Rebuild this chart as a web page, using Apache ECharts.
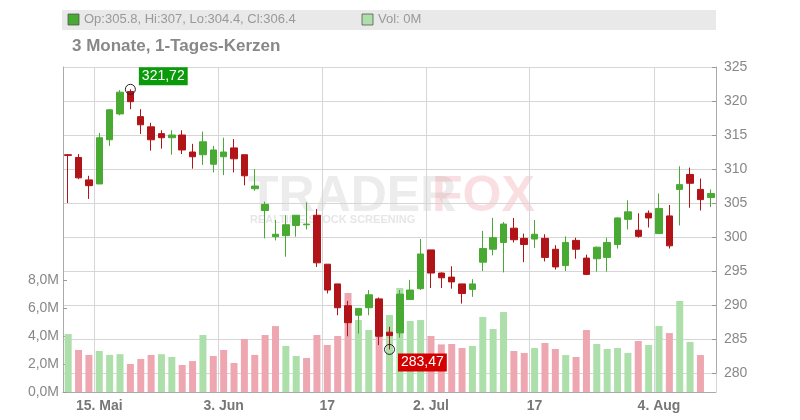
<!DOCTYPE html><html><head><meta charset="utf-8">
<script src="https://cdn.jsdelivr.net/npm/echarts@6/dist/echarts.min.js"></script>
<style>html,body{margin:0;padding:0;background:#fff}#c{width:800px;height:420px}</style></head><body><div id="c"></div>
<script>
const dates=['10.05','13.05','14.05','15.05','16.05','17.05','20.05','21.05','22.05','23.05','24.05','27.05','28.05','29.05','30.05','03.06','04.06','05.06','06.06','07.06','10.06','11.06','12.06','13.06','14.06','17.06','18.06','19.06','20.06','21.06','24.06','25.06','26.06','27.06','28.06','02.07','03.07','04.07','05.07','08.07','09.07','10.07','11.07','12.07','15.07','17.07','18.07','19.07','22.07','23.07','24.07','25.07','26.07','29.07','30.07','31.07','01.08','04.08','05.08','06.08','07.08','08.08','09.08'];
const tickLabels={3:'15. Mai',15:'3. Jun',25:'17',35:'2. Jul',45:'17',57:'4. Aug'};
const opens =[312.1,311.7,308.4,307.8,314.3,318.1,321.4,317.7,316.2,315.2,314.6,315.0,312.5,312.1,310.7,311.8,313.1,312.1,307.1,303.9,300.05,300.2,301.7,301.8,303.2,296.0,293.1,289.9,288.5,289.6,290.9,286.0,285.9,290.8,292.4,298.1,294.7,294.1,293.1,292.3,296.3,298.2,299.2,301.3,299.8,299.7,299.8,298.2,295.8,299.5,296.9,296.8,297.0,298.9,302.6,301.0,303.5,300.5,303.1,307.0,309.2,307.0,305.8];
const closes=[312.0,308.7,307.55,314.6,318.7,321.3,319.9,316.5,314.3,314.6,315.0,312.8,311.8,314.0,312.8,312.5,311.5,309.0,307.5,304.8,300.4,301.8,303.2,301.9,296.2,292.2,289.6,287.4,289.5,291.5,285.4,285.5,291.6,292.2,297.5,294.7,294.0,293.4,291.7,293.1,298.3,299.9,301.9,299.6,298.9,300.4,297.0,295.6,299.2,298.2,294.5,298.5,299.2,302.8,303.7,300.1,302.8,304.2,298.7,307.7,307.9,305.5,306.4];
const highs =[312.2,312.2,309.0,315.3,318.8,321.6,321.72,318.8,316.8,315.7,315.7,315.7,313.7,315.5,313.4,314.6,314.4,312.1,310.0,305.2,302.5,303.2,303.2,305.1,304.1,296.0,293.1,290.6,289.5,292.2,291.1,286.8,292.2,293.7,299.7,298.1,294.8,295.7,293.1,293.8,300.9,302.8,302.2,302.8,300.5,302.5,300.4,298.8,300.1,299.9,297.4,298.6,299.9,302.9,305.4,303.5,303.9,306.4,304.7,310.4,310.2,308.6,307.0];
const lows  =[305.0,308.5,305.6,307.8,313.4,317.9,318.8,315.15,312.7,313.0,312.1,312.2,310.05,310.6,309.5,309.1,309.5,307.6,306.8,299.8,299.5,297.1,300.05,301.1,295.6,291.7,288.5,285.4,285.8,288.5,284.1,283.47,285.2,290.8,292.2,292.5,292.5,292.4,290.2,291.2,295.0,297.3,294.8,299.2,296.3,298.4,296.4,295.2,295.0,296.8,294.4,294.9,294.9,298.3,301.1,299.9,301.4,300.5,298.3,301.7,304.3,303.9,304.4];
const volumes=[4.14,3.0,2.65,2.93,2.65,2.7,2.0,2.36,2.65,2.7,2.5,1.93,2.21,4.07,2.57,3.0,2.07,3.79,2.65,4.07,4.71,3.29,2.57,2.43,4.07,3.36,4.0,7.07,5.14,4.43,4.4,5.5,7.43,5.07,5.14,4.0,3.4,3.43,3.14,3.29,5.36,4.5,5.71,2.93,2.79,3.14,3.5,3.07,2.64,2.5,4.43,3.43,3.07,3.14,2.79,3.64,3.36,4.71,4.21,6.5,3.57,2.64,0];
const priceTicks=[280,285,290,295,300,305,310,315,320,325];
const volTicks=[0,2,4,6,8];

const UP='#48aa33',DN='#b11418',VUP='#addfab',VDN='#eea7b0';
const candles=dates.map((d,i)=>[opens[i],closes[i],lows[i],highs[i]]);
const volData=volumes.map((v,i)=>({value:v*1e6,itemStyle:{color:(i>0&&closes[i]<closes[i-1])?VDN:VUP}}));
let hiI=0,loI=0;highs.forEach((h,i)=>{if(h>highs[hiI])hiI=i});lows.forEach((l,i)=>{if(l<lows[loI])loI=i});
const fmt=v=>v.toFixed(2).replace('.',',');
const chart=echarts.init(document.getElementById('c'));
const lineC='#d6d6d6';
const isTick=i=>tickLabels[i]!==undefined;
chart.setOption({
 animation:false,
 graphic:[
  {type:'rect',shape:{x:62,y:10,width:654,height:20},style:{fill:'#e9e9e9'}},
  {type:'rect',shape:{x:68,y:14,width:11,height:11},style:{fill:UP,stroke:'#555',lineWidth:0.8}},
  {type:'text',x:84,y:13,style:{text:'Op:305.8, Hi:307, Lo:304.4, Cl:306.4',fill:'#999',font:'13px Arial'}},
  {type:'rect',shape:{x:362,y:14,width:11,height:11},style:{fill:VUP,stroke:'#555',lineWidth:0.8}},
  {type:'text',x:378,y:13,style:{text:'Vol: 0M',fill:'#999',font:'13px Arial'}},
  {type:'text',x:72,y:38,style:{text:'3 Monate, 1-Tages-Kerzen',fill:'#888',font:'bold 17px Arial'}},
  {type:'text',x:248,y:172,z:0,style:{text:'TRADER',fill:'rgba(200,200,200,0.35)',font:'bold 50px Arial'}},
  {type:'text',x:432,y:172,z:0,style:{text:'FOX',fill:'rgba(240,150,160,0.3)',font:'bold 50px Arial'}},
  {type:'text',x:250,y:214,z:0,style:{text:'REALTIME STOCK SCREENING',fill:'rgba(200,200,200,0.45)',font:'bold 11px Arial'}}
 ],
 grid:[{left:63,right:84,top:67,bottom:47},{left:63,right:84,top:280,bottom:28}],
 xAxis:[
  {type:'category',data:dates,gridIndex:0,boundaryGap:true,axisLine:{show:false},axisTick:{show:false},axisLabel:{show:false},
   splitLine:{show:true,interval:isTick,lineStyle:{color:lineC}}},
  {type:'category',data:dates,gridIndex:1,boundaryGap:true,
   axisLine:{lineStyle:{color:'#aaa'}},
   axisTick:{show:false},
   axisLabel:{interval:isTick,formatter:(v,i)=>tickLabels[i]||'',color:'#777',fontSize:14,fontWeight:'bold',fontFamily:'Arial',margin:7},
   splitLine:{show:true,interval:isTick,lineStyle:{color:lineC}}}
 ],
 yAxis:[
  {type:'value',gridIndex:0,position:'right',min:280,max:325,interval:5,
   axisLine:{show:true,lineStyle:{color:'#aaa'}},axisTick:{show:true,length:4,inside:true,lineStyle:{color:'#999'}},
   axisLabel:{color:'#888',fontSize:14,fontFamily:'Arial',margin:8,formatter:v=>priceTicks.includes(v)?String(v):''},
   splitLine:{lineStyle:{color:lineC}}},
  {type:'value',gridIndex:1,position:'left',min:0,max:8e6,interval:2e6,
   axisLine:{show:true,lineStyle:{color:'#aaa'}},axisTick:{show:true,length:4,inside:true,lineStyle:{color:'#999'}},
   axisLabel:{color:'#888',fontSize:14,fontFamily:'Arial',margin:4,formatter:v=>{const m=v/1e6;return volTicks.includes(m)?m.toFixed(1).replace('.',',')+'M':''}},
   splitLine:{show:false}},
  {type:'value',gridIndex:0,position:'left',min:280,max:325,
   axisLine:{show:true,lineStyle:{color:'#aaa'}},axisTick:{show:false},axisLabel:{show:false},splitLine:{show:false}}
 ],
 series:[
  {type:'bar',xAxisIndex:1,yAxisIndex:1,data:volData,barWidth:7,z:1},
  {type:'candlestick',xAxisIndex:0,yAxisIndex:0,data:candles,barWidth:7,z:3,
   itemStyle:{color:UP,color0:DN,borderColor:UP,borderColor0:DN,borderWidth:1},
   markPoint:{symbol:'circle',symbolSize:10,
    itemStyle:{color:'rgba(255,255,255,0)',borderColor:'#222',borderWidth:1},
    data:[
     {coord:[hiI,highs[hiI]],value:fmt(highs[hiI]),label:{show:true,position:'right',offset:[-2,-13],formatter:'{c}',color:'#fff',backgroundColor:'#0a9a0a',padding:[2,3],fontSize:14,fontFamily:'Arial'}},
     {coord:[loI,lows[loI]],value:fmt(lows[loI]),label:{show:true,position:'right',offset:[-2,13],formatter:'{c}',color:'#fff',backgroundColor:'#d40000',padding:[2,3],fontSize:14,fontFamily:'Arial'}}
    ]}}
 ]
});
</script></body></html>
